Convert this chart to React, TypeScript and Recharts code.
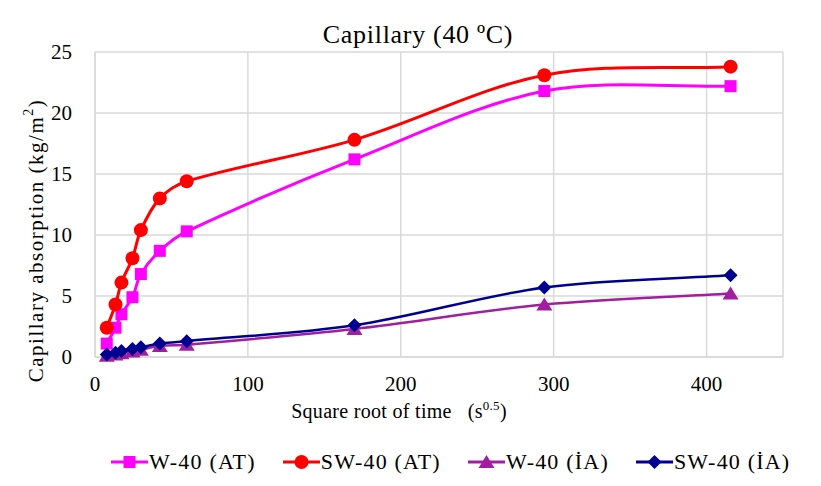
import React from "react";
import { LineChart, Line, XAxis, YAxis, CartesianGrid, Legend, Label } from "recharts";

const sqrtTime = [7.7, 13.4, 17.3, 24.5, 30, 42.4, 60, 169.7, 293.9, 415.7];
const wAT = [1.1, 2.4, 3.5, 4.9, 6.8, 8.7, 10.3, 16.2, 21.8, 22.2];
const swAT = [2.4, 4.3, 6.1, 8.1, 10.4, 13.0, 14.4, 17.8, 23.1, 23.8];
const wIA = [0.1, 0.2, 0.3, 0.45, 0.6, 0.9, 1.0, 2.3, 4.3, 5.2];
const swIA = [0.2, 0.35, 0.5, 0.65, 0.8, 1.1, 1.3, 2.6, 5.7, 6.7];

const xTicks = [0, 100, 200, 300, 400];
const yTicks = [0, 5, 10, 15, 20, 25];

const seriesNames = ["W-40 (AT)", "SW-40 (AT)", "W-40 (İA)", "SW-40 (İA)"];
const colors = ["#FF00FF", "#FF0000", "#A01FA0", "#000090"];

const data = sqrtTime.map((x, i) => ({ x, wAT: wAT[i], swAT: swAT[i], wIA: wIA[i], swIA: swIA[i] }));

const FONT = "'Liberation Serif', 'Times New Roman', serif";

// Excel-like smoothed line (bezier through points)
const excelSmooth = (context: any) => {
  let pts: number[][] = [];
  return {
    areaStart() {},
    areaEnd() {},
    lineStart() {
      pts = [];
    },
    point(x: number, y: number) {
      pts.push([+x, +y]);
    },
    lineEnd() {
      const n = pts.length;
      if (n === 0) return;
      context.moveTo(pts[0][0], pts[0][1]);
      for (let i = 0; i < n - 1; i++) {
        const p0 = pts[Math.max(0, i - 1)];
        const p1 = pts[i];
        const p2 = pts[i + 1];
        const p3 = pts[Math.min(n - 1, i + 2)];
        const d = Math.hypot(p2[0] - p1[0], p2[1] - p1[1]);
        const t1x = p2[0] - p0[0], t1y = p2[1] - p0[1];
        const l1 = Math.hypot(t1x, t1y) || 1;
        const t2x = p3[0] - p1[0], t2y = p3[1] - p1[1];
        const l2 = Math.hypot(t2x, t2y) || 1;
        const k = d * 0.33;
        context.bezierCurveTo(
          p1[0] + (t1x / l1) * k,
          p1[1] + (t1y / l1) * k,
          p2[0] - (t2x / l2) * k,
          p2[1] - (t2y / l2) * k,
          p2[0],
          p2[1]
        );
      }
    },
  };
};

const markerShape = (kind: string, color: string, cx: number, cy: number, key?: any) => {
  if (kind === "square") return <rect key={key} x={cx - 6} y={cy - 6} width={12} height={12} fill={color} />;
  if (kind === "circle") return <circle key={key} cx={cx} cy={cy} r={7} fill={color} />;
  if (kind === "triangle")
    return <path key={key} d={`M${cx},${cy - 7} L${cx + 8},${cy + 6} L${cx - 8},${cy + 6} Z`} fill={color} />;
  return <path key={key} d={`M${cx},${cy - 7} L${cx + 7},${cy} L${cx},${cy + 7} L${cx - 7},${cy} Z`} fill={color} />;
};

const kinds = ["square", "circle", "triangle", "diamond"];

const makeDot = (kind: string, color: string) => (props: any) => {
  const { cx, cy, index } = props;
  if (cx == null || cy == null) return <g key={index} />;
  return markerShape(kind, color, cx, cy, index);
};

const LegendContent = () => (
  <div style={{ display: "flex", alignItems: "center", paddingLeft: 103, fontFamily: FONT, fontSize: 22, color: "#000", letterSpacing: 1.2, lineHeight: "24px", whiteSpace: "nowrap", height: 24 }}>
    {seriesNames.map((n, i) => (
      <div key={n} style={{ display: "flex", alignItems: "center", marginRight: 27, flexShrink: 0 }}>
        <svg width={37} height={20} style={{ marginRight: 1, flexShrink: 0 }}>
          <line x1={0} y1={10} x2={37} y2={10} stroke={colors[i]} strokeWidth={3} />
          {markerShape(kinds[i], colors[i], 18.5, 10)}
        </svg>
        <span>{n}</span>
      </div>
    ))}
  </div>
);

export default function App() {
  return (
    <div style={{ position: "relative", width: 813, height: 478, fontFamily: FONT }}>
      <div style={{ position: "absolute", left: 0, width: 820, top: 12, textAlign: "center", fontSize: 26, letterSpacing: 0.7, lineHeight: "30px", color: "#000", zIndex: 2 }}>
        Capillary (40 ºC)
      </div>
      <LineChart width={813} height={478} data={data} margin={{ top: 44, right: 38, left: 27, bottom: 45 }}>
        <CartesianGrid stroke="#d9d9d9" strokeWidth={1.5} />
        <XAxis
          dataKey="x"
          type="number"
          domain={[0, 450]}
          ticks={xTicks}
          tickSize={0}
          tickMargin={19}
          height={60}
          axisLine={{ stroke: "#d9d9d9", strokeWidth: 1.5 }}
          tick={{ fill: "#000", fontSize: 21, fontFamily: FONT }}
          interval={0}
        >
          <Label
            content={(p: any) => {
              const vb = p.viewBox;
              return (
                <text x={vb.x + vb.width / 2 - 40} y={vb.y + 61} textAnchor="middle" fontFamily={FONT} fontSize={20} letterSpacing={0.3} fill="#000">
                  Square root of time{"\u00A0\u00A0\u00A0"}(s
                  <tspan dy={-8} fontSize={13}>0.5</tspan>
                  <tspan dy={8}>)</tspan>
                </text>
              );
            }}
          />
        </XAxis>
        <YAxis
          type="number"
          domain={[0, 25]}
          ticks={yTicks}
          tickSize={0}
          tickMargin={23}
          width={60}
          axisLine={{ stroke: "#d9d9d9", strokeWidth: 1.5 }}
          tick={{ fill: "#000", fontSize: 21, fontFamily: FONT }}
          interval={0}
        >
          <Label
            content={(p: any) => {
              const vb = p.viewBox;
              const cx = 28;
              const cy = vb.y + vb.height / 2 + 36;
              return (
                <text x={cx} y={cy} transform={`rotate(-90 ${cx} ${cy})`} textAnchor="middle" dominantBaseline="central" fontFamily={FONT} fontSize={21} letterSpacing={1.5} fill="#000">
                  Capillary  absorption (kg/m
                  <tspan dy={-8} fontSize={14}>2</tspan>
                  <tspan dy={8}>)</tspan>
                </text>
              );
            }}
          />
        </YAxis>
        <Legend
          verticalAlign="bottom"
          content={<LegendContent />}
          wrapperStyle={{ top: 442, bottom: "auto", left: 0, width: 813 }}
        />
        <Line type={excelSmooth as any} dataKey="wAT" name={seriesNames[0]} stroke={colors[0]} strokeWidth={3} dot={makeDot("square", colors[0])} activeDot={false} isAnimationActive={false} />
        <Line type={excelSmooth as any} dataKey="swAT" name={seriesNames[1]} stroke={colors[1]} strokeWidth={3} dot={makeDot("circle", colors[1])} activeDot={false} isAnimationActive={false} />
        <Line type={excelSmooth as any} dataKey="wIA" name={seriesNames[2]} stroke={colors[2]} strokeWidth={2.5} dot={makeDot("triangle", colors[2])} activeDot={false} isAnimationActive={false} />
        <Line type={excelSmooth as any} dataKey="swIA" name={seriesNames[3]} stroke={colors[3]} strokeWidth={2.5} dot={makeDot("diamond", colors[3])} activeDot={false} isAnimationActive={false} />
      </LineChart>
    </div>
  );
}
